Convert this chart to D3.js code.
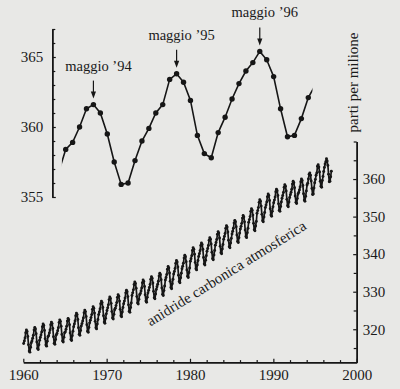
<!DOCTYPE html>
<html>
<head>
<meta charset="utf-8">
<script src="https://cdn.jsdelivr.net/npm/d3@7"></script>
<style>
  body { margin: 0; background: #e8e8e6; }
  svg { display: block; }
  text { font-family: "Liberation Serif", "DejaVu Serif", serif; fill: #1a1a1a; }
</style>
</head>
<body>
<svg width="400" height="389"></svg>
<script>
// monthly CO2 (ppm), one row per year, Jan..Dec, starting 1960
const firstYear = 1960;
const monthly = [
  [316.2, 316.9, 317.7, 319.1, 319.8, 319.4, 318.1, 315.9, 314.2, 313.9, 315.2, 316.4],
  [316.9, 317.6, 318.4, 319.8, 320.5, 320.1, 318.8, 316.6, 314.9, 314.6, 315.9, 317.1],
  [317.8, 318.5, 319.3, 320.7, 321.4, 321.0, 319.7, 317.5, 315.8, 315.5, 316.8, 318.0],
  [318.3, 319.0, 319.8, 321.2, 321.9, 321.5, 320.2, 318.0, 316.3, 316.0, 317.3, 318.5],
  [318.9, 319.6, 320.4, 321.8, 322.5, 322.1, 320.8, 318.6, 316.9, 316.6, 317.9, 319.1],
  [319.3, 320.0, 320.8, 322.2, 322.9, 322.5, 321.2, 319.0, 317.3, 317.0, 318.3, 319.5],
  [320.7, 321.4, 322.2, 323.6, 324.3, 323.9, 322.6, 320.4, 318.7, 318.4, 319.7, 320.9],
  [321.5, 322.2, 323.0, 324.4, 325.1, 324.7, 323.4, 321.2, 319.5, 319.2, 320.5, 321.7],
  [322.4, 323.1, 323.9, 325.3, 326.0, 325.6, 324.3, 322.1, 320.4, 320.1, 321.4, 322.6],
  [323.9, 324.6, 325.4, 326.8, 327.5, 327.1, 325.8, 323.6, 321.9, 321.6, 322.9, 324.1],
  [325.0, 325.7, 326.5, 327.9, 328.6, 328.2, 326.9, 324.7, 323.0, 322.7, 324.0, 325.2],
  [325.6, 326.3, 327.1, 328.5, 329.2, 328.8, 327.5, 325.3, 323.6, 323.3, 324.6, 325.8],
  [326.8, 327.5, 328.3, 329.7, 330.4, 330.0, 328.7, 326.5, 324.8, 324.5, 325.8, 327.0],
  [329.0, 329.7, 330.5, 331.9, 332.6, 332.2, 330.9, 328.7, 327.0, 326.7, 328.0, 329.2],
  [329.5, 330.2, 331.0, 332.4, 333.1, 332.7, 331.4, 329.2, 327.5, 327.2, 328.5, 329.7],
  [330.4, 331.1, 331.9, 333.3, 334.0, 333.6, 332.3, 330.1, 328.4, 328.1, 329.4, 330.6],
  [331.3, 332.0, 332.8, 334.2, 334.9, 334.5, 333.2, 331.0, 329.3, 329.0, 330.3, 331.5],
  [333.1, 333.8, 334.6, 336.0, 336.7, 336.3, 335.0, 332.8, 331.1, 330.8, 332.1, 333.3],
  [334.7, 335.4, 336.2, 337.6, 338.3, 337.9, 336.6, 334.4, 332.7, 332.4, 333.7, 334.9],
  [336.1, 336.8, 337.6, 339.0, 339.7, 339.3, 338.0, 335.8, 334.1, 333.8, 335.1, 336.3],
  [338.1, 338.8, 339.6, 341.0, 341.7, 341.3, 340.0, 337.8, 336.1, 335.8, 337.1, 338.3],
  [339.4, 340.1, 340.9, 342.3, 343.0, 342.6, 341.3, 339.1, 337.4, 337.1, 338.4, 339.6],
  [340.8, 341.5, 342.3, 343.7, 344.4, 344.0, 342.7, 340.5, 338.8, 338.5, 339.8, 341.0],
  [342.4, 343.1, 343.9, 345.3, 346.0, 345.6, 344.3, 342.1, 340.4, 340.1, 341.4, 342.6],
  [344.0, 344.7, 345.5, 346.9, 347.6, 347.2, 345.9, 343.7, 342.0, 341.7, 343.0, 344.2],
  [345.4, 346.1, 346.9, 348.3, 349.0, 348.6, 347.3, 345.1, 343.4, 343.1, 344.4, 345.6],
  [346.7, 347.4, 348.2, 349.6, 350.3, 349.9, 348.6, 346.4, 344.7, 344.4, 345.7, 346.9],
  [348.5, 349.2, 350.0, 351.4, 352.1, 351.7, 350.4, 348.2, 346.5, 346.2, 347.5, 348.7],
  [350.9, 351.6, 352.4, 353.8, 354.5, 354.1, 352.8, 350.6, 348.9, 348.6, 349.9, 351.1],
  [352.4, 353.1, 353.9, 355.3, 356.0, 355.6, 354.3, 352.1, 350.4, 350.1, 351.4, 352.6],
  [353.7, 354.4, 355.2, 356.6, 357.3, 356.9, 355.6, 353.4, 351.7, 351.4, 352.7, 353.9],
  [354.9, 355.6, 356.4, 357.8, 358.5, 358.1, 356.8, 354.6, 352.9, 352.6, 353.9, 355.1],
  [355.8, 356.5, 357.3, 358.7, 359.4, 359.0, 357.7, 355.5, 353.8, 353.5, 354.8, 356.0],
  [356.4, 357.1, 357.9, 359.3, 360.0, 359.6, 358.3, 356.1, 354.4, 354.1, 355.4, 356.8],
  [358.4, 358.9, 360.0, 361.3, 361.6, 361.0, 359.5, 357.5, 355.9, 356.0, 357.6, 359.0],
  [359.9, 361.0, 361.6, 363.4, 363.8, 363.2, 361.9, 359.4, 358.1, 357.8, 359.6, 360.7],
  [362.0, 363.1, 364.0, 364.6, 365.4, 364.8, 363.6, 361.3, 359.3, 359.4, 360.6, 362.1]
];

// inset: Jan 1994 .. Dec 1996 (monthly), plus the months just outside
const insetValues = [
  358.4, 358.9, 360.0, 361.3, 361.6, 361.0, 359.5, 357.5, 355.9, 356.0, 357.6, 359.0,
  359.9, 361.0, 361.6, 363.4, 363.8, 363.2, 361.9, 359.4, 358.1, 357.8, 359.6, 360.7,
  362.0, 363.1, 364.0, 364.6, 365.4, 364.8, 363.6, 361.3, 359.3, 359.4, 360.6, 362.1
];
const insetBefore = 356.8; // Dec '93
const insetAfter = 363.0;  // Jan '97
const peakIndex = [4, 16, 28];
const peakLabels = ["maggio ’94", "maggio ’95", "maggio ’96"];

const xTicks = [1960, 1970, 1980, 1990, 2000];
const xMinor = [1962, 1964, 1966, 1968, 1972, 1974, 1976, 1978, 1982, 1984, 1986, 1988, 1992, 1994, 1996, 1998];
const yTicks = [320, 330, 340, 350, 360];
const yMinor = [315, 325, 335, 345, 355, 365, 370];
const insetTicks = [355, 360, 365];
const insetMinor = [356, 357, 358, 359, 361, 362, 363, 364, 366, 367];

const ink = "#161616";
const svg = d3.select("svg");

// main chart scales
const x = d3.scaleLinear().domain([1960, 2000]).range([23.3, 356.7]);
const y = d3.scaleLinear().domain([311.2, 370]).range([362.3, 141.5]);

// inset scales
const xi = d3.scaleLinear().domain([0, 35]).range([65.7, 308.3]);
const yi = d3.scaleLinear().domain([355, 367]).range([197, 29]);

const fontAttrs = sel => sel.attr("font-family", null).attr("font-size", null);

// x axis (ticks point up)
const gx = svg.append("g").attr("transform", `translate(0,${y.range()[0]})`);
gx.call(d3.axisBottom(x).tickValues(xTicks).tickFormat(d3.format("d"))
  .tickSizeInner(-3.5).tickSizeOuter(0).tickPadding(7))
  .call(fontAttrs);
gx.append("g").call(d3.axisBottom(x).tickValues(xMinor).tickFormat("")
  .tickSizeInner(-2.2).tickSizeOuter(0));
gx.selectAll("path.domain").attr("stroke", ink).attr("stroke-width", 1.5);
gx.selectAll("line").attr("stroke", ink).attr("stroke-width", 1.2);
gx.selectAll("text").style("font-size", "15px");

// right y axis (ticks point left)
const gy = svg.append("g").attr("transform", `translate(${x.range()[1]},0)`);
gy.call(d3.axisRight(y).tickValues(yTicks).tickFormat(d3.format("d"))
  .tickSizeInner(-3.5).tickSizeOuter(0).tickPadding(6))
  .call(fontAttrs);
gy.append("g").call(d3.axisRight(y).tickValues(yMinor).tickFormat("")
  .tickSizeInner(-3).tickSizeOuter(0));
gy.selectAll("path.domain").attr("stroke", ink).attr("stroke-width", 1.5);
gy.selectAll("line").attr("stroke", ink).attr("stroke-width", 1.2);
gy.selectAll("text").style("font-size", "15px");

svg.append("text")
  .attr("transform", "translate(357.5,82.5) rotate(-90)")
  .attr("text-anchor", "middle")
  .style("font-size", "15px")
  .text("parti per milione");

// main series
const mainData = monthly.flatMap((row, i) =>
  row.map((v, m) => ({ t: firstYear + i + (m + 0.5) / 12, v })));

svg.append("path")
  .datum(mainData)
  .attr("fill", "none")
  .attr("stroke", ink)
  .attr("stroke-width", 1.7)
  .attr("stroke-linejoin", "round")
  .attr("d", d3.line().x(d => x(d.t)).y(d => y(d.v)));

svg.append("g").selectAll("circle")
  .data(mainData)
  .join("circle")
  .attr("cx", d => x(d.t))
  .attr("cy", d => y(d.v))
  .attr("r", 1.45)
  .attr("fill", ink);

svg.append("text")
  .attr("transform", "translate(229,277.5) rotate(-32)")
  .attr("text-anchor", "middle")
  .style("font-size", "15px")
  .text("anidride carbonica atmosferica");

// inset axis (ticks point right)
const gi = svg.append("g").attr("transform", `translate(52.3,0)`);
gi.call(d3.axisLeft(yi).tickValues(insetTicks).tickFormat(d3.format("d"))
  .tickSizeInner(-3.5).tickSizeOuter(0).tickPadding(9))
  .call(fontAttrs);
gi.append("g").call(d3.axisLeft(yi).tickValues(insetMinor).tickFormat("")
  .tickSizeInner(-3).tickSizeOuter(0));
gi.selectAll("path.domain").attr("stroke", ink).attr("stroke-width", 1.5);
gi.selectAll("line").attr("stroke", ink).attr("stroke-width", 1.2);
gi.selectAll("text").style("font-size", "15px");

// inset series
const insetData = insetValues.map((v, i) => ({ i, v }));
const insetLineData = [{ i: -1, v: insetBefore }, ...insetData, { i: 36, v: insetAfter }];

svg.append("clipPath").attr("id", "insetClip")
  .append("rect")
  .attr("x", xi(-0.55)).attr("y", 0)
  .attr("width", xi(35.6) - xi(-0.55)).attr("height", 389);

svg.append("path")
  .datum(insetLineData)
  .attr("clip-path", "url(#insetClip)")
  .attr("fill", "none")
  .attr("stroke", ink)
  .attr("stroke-width", 1.6)
  .attr("d", d3.line().x(d => xi(d.i)).y(d => yi(d.v)));

svg.append("g").selectAll("circle")
  .data(insetData)
  .join("circle")
  .attr("cx", d => xi(d.i))
  .attr("cy", d => yi(d.v))
  .attr("r", 2.7)
  .attr("fill", ink);

// peak annotations with arrows
const ann = svg.append("g");
peakIndex.forEach((idx, k) => {
  const px = xi(idx);
  const tip = yi(insetValues[idx]) - 6;
  const tail = tip - 18;
  ann.append("line")
    .attr("x1", px).attr("x2", px)
    .attr("y1", tail).attr("y2", tip - 5)
    .attr("stroke", ink).attr("stroke-width", 1.2);
  ann.append("path")
    .attr("d", `M${px},${tip} L${px - 2.6},${tip - 7} L${px + 2.6},${tip - 7} Z`)
    .attr("fill", ink);
  ann.append("text")
    .attr("x", px + 5)
    .attr("y", tail - 10)
    .attr("text-anchor", "middle")
    .style("font-size", "14.5px")
    .text(peakLabels[k]);
});
</script>
</body>
</html>
